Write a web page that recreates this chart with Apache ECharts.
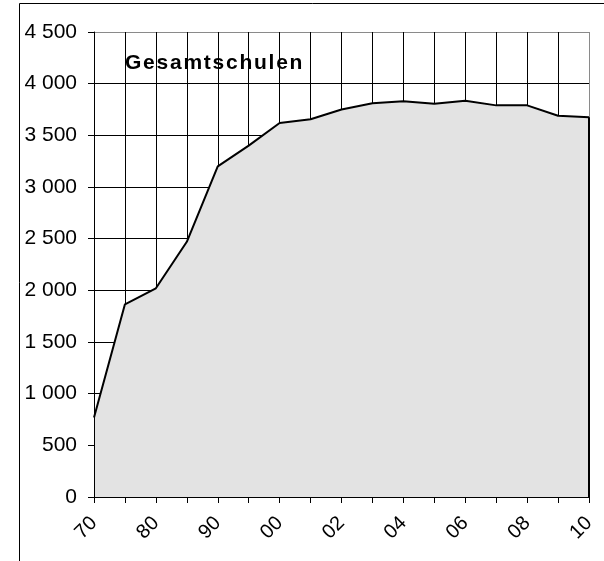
<!DOCTYPE html>
<html>
<head>
<meta charset="utf-8">
<script src="https://cdn.jsdelivr.net/npm/echarts@6/dist/echarts.min.js"></script>
<style>
  html, body { margin: 0; padding: 0; background: #fff; }
  #chart { width: 604px; height: 561px; }
</style>
</head>
<body>
<div id="chart"></div>
<script>
// Schuljahre (70..95 in 5er-Schritten, danach jährlich)
const years = ['70', '75', '80', '85', '90', '95', '00', '01', '02', '03', '04', '05', '06', '07', '08', '09', '10'];
// Anzahl Gesamtschulen
const schools = [770, 1865, 2020, 2470, 3200, 3400, 3620, 3655, 3750, 3810, 3830, 3805, 3835, 3790, 3790, 3690, 3675];
const yTicks = [0, 500, 1000, 1500, 2000, 2500, 3000, 3500, 4000, 4500];

const title = 'Gesamtschulen';
const font = '"Liberation Sans", Arial, sans-serif';

function fmt(v) {
  const s = String(v);
  return s.length > 3 ? s.slice(0, -3) + ' ' + s.slice(-3) : s;
}

const chart = echarts.init(document.getElementById('chart'));

const yMin = yTicks[0];
const yMax = yTicks[yTicks.length - 1];
const yStep = yTicks[1] - yTicks[0];

// split lines: black, outer edge grey
const hColors = yTicks.map((t, i) => (i === yTicks.length - 1 ? '#8a8a8a' : '#000'));
const vColors = years.map((t, i) => (i === years.length - 1 ? '#8a8a8a' : '#000'));

chart.setOption({
  animation: false,
  backgroundColor: '#fff',
  textStyle: { fontFamily: font },
  grid: { left: 94, right: 15, top: 32, bottom: 64, containLabel: false },
  graphic: [
    {
      type: 'rect',
      shape: { x: 19.5, y: 3.5, width: 700, height: 700 },
      style: { fill: 'none', stroke: '#000', lineWidth: 1 },
      silent: true,
      z: 100
    },
    {
      type: 'text',
      left: 125,
      top: 53,
      // leicht gesperrt wie im Original
      style: { text: title.split('').join('\u200a'), font: 'bold 21px ' + font, fill: '#000' },
      z: 100
    }
  ],
  xAxis: [
    {
      type: 'category',
      position: 'bottom',
      data: years,
      boundaryGap: false,
      z: 5,
      axisLine: { lineStyle: { color: '#000', width: 1 } },
      axisTick: { show: true, interval: 0, length: 6, lineStyle: { color: '#000' } },
      axisLabel: { interval: 1, rotate: 45, margin: 23, color: '#000', fontSize: 20, fontFamily: font },
      splitLine: { show: false }
    },
    {
      type: 'category',
      position: 'top',
      data: years,
      boundaryGap: false,
      z: 0,
      axisLine: { show: false },
      axisTick: { show: false },
      axisLabel: { show: false },
      splitLine: { show: true, interval: 0, lineStyle: { color: vColors, width: 1 } }
    }
  ],
  yAxis: [
    {
      type: 'value',
      position: 'left',
      min: yMin,
      max: yMax,
      interval: yStep,
      z: 5,
      axisLine: { show: true, lineStyle: { color: '#000', width: 1 } },
      axisTick: { show: true, length: 6, lineStyle: { color: '#000' } },
      axisLabel: { margin: 17, color: '#000', fontSize: 21, fontFamily: font, formatter: fmt },
      splitLine: { show: false }
    },
    {
      type: 'value',
      position: 'right',
      min: yMin,
      max: yMax,
      interval: yStep,
      z: 0,
      axisLine: { show: false },
      axisTick: { show: false },
      axisLabel: { show: false },
      splitLine: { show: true, lineStyle: { color: hColors, width: 1 } }
    }
  ],
  series: [
    {
      type: 'line',
      data: schools,
      xAxisIndex: 0,
      yAxisIndex: 0,
      symbol: 'none',
      z: 2,
      lineStyle: { color: '#000', width: 2 },
      areaStyle: { color: '#e3e3e3', opacity: 1 },
      markLine: {
        silent: true,
        symbol: 'none',
        label: { show: false },
        lineStyle: { color: '#000', width: 2, type: 'solid' },
        data: [[
          { coord: [years[years.length - 1], yMin] },
          { coord: [years[years.length - 1], schools[schools.length - 1]] }
        ]]
      }
    }
  ]
});
</script>
</body>
</html>
